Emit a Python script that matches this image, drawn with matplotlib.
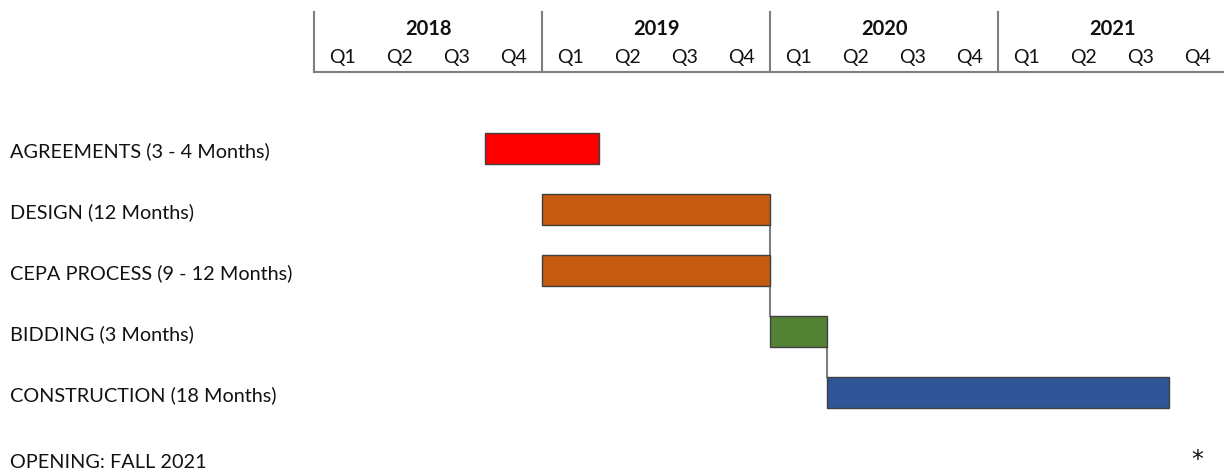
import matplotlib.pyplot as plt

tasks = ["AGREEMENTS (3 - 4 Months)", "DESIGN (12 Months)", "CEPA PROCESS (9 - 12 Months)",
         "BIDDING (3 Months)", "CONSTRUCTION (18 Months)"]
starts = [3, 4, 4, 8, 9]          # quarter index from Q1 2018
durations = [2, 4, 4, 1, 6]       # in quarters
colors = ["#FF0000", "#C55A11", "#C55A11", "#548235", "#2F5597"]
years = ["2018", "2019", "2020", "2021"]
quarters = ["Q1", "Q2", "Q3", "Q4"]
links = [(1, 3, 8), (3, 4, 9)]    # (from row, to row, x)

plt.rcParams['font.family'] = ['Lato', 'DejaVu Sans']

fig = plt.figure(figsize=(12.24, 4.72), dpi=100)
ax = fig.add_axes([0, 0, 1, 1])
# rows are 61 px apart, first bar centre at 148.5 px; quarters are 57 px wide from 314 px
ax.set_xlim(-314 / 57, (1224 - 314) / 57)
ax.set_ylim((472 - 148.5) / 61, -148.5 / 61)
ax.axis("off")

h = 0.5
ax.barh(range(len(tasks)), durations, left=starts, height=h, color=colors,
        edgecolor="#404040", linewidth=1.0, zorder=3)

for r0, r1, x in links:
    ax.plot([x, x], [r0 + h / 2, r1 - h / 2], color="#7f7f7f", lw=1.5, zorder=2)

lab_off = 3 / 61
for i, t in enumerate(tasks):
    ax.text(-5.33, i + lab_off, t, fontsize=14.3, va="center", ha="left", color="#111111")
ax.text(-5.33, (462 - 148.5) / 61, "OPENING: FALL 2021", fontsize=14.3,
        va="center", ha="left", color="#111111")
ax.text(15.49, (460 - 148.5) / 61, "*", fontsize=17, va="center", ha="center",
        color="#111111", family="DejaVu Sans")

# header
line_y = (72 - 148.5) / 61
top_y = (12 - 148.5) / 61
ax.plot([0, 16.2], [line_y, line_y], color="#7f7f7f", lw=1.5, clip_on=False)
for k, y in enumerate(years):
    ax.plot([4 * k, 4 * k], [top_y, line_y], color="#7f7f7f", lw=1.5)
    ax.text(4 * k + 2, (29 - 148.5) / 61, y, fontsize=14.5, fontweight="bold",
            ha="center", va="center", color="#111111")
    for j, q in enumerate(quarters):
        ax.text(4 * k + j + 0.5, (57 - 148.5) / 61, q, fontsize=14,
                ha="center", va="center", color="#111111")

fig.savefig("out.png", dpi=100)
